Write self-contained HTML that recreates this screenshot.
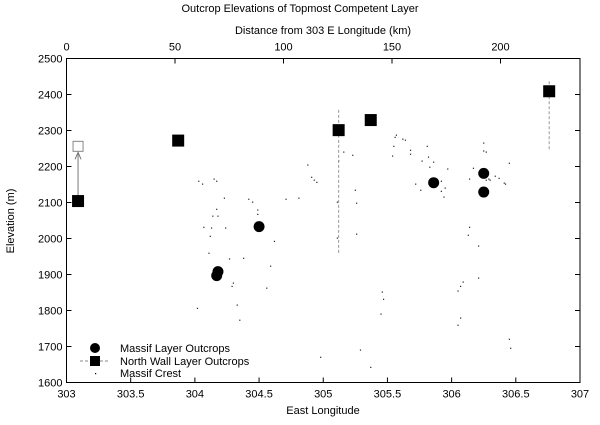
<!DOCTYPE html>
<html><head><meta charset="utf-8"><style>
body{margin:0;background:#fff;}
svg text{font-family:"Liberation Sans",sans-serif;font-size:11px;fill:#000;}
</style></head><body>
<svg id="chart" width="600" height="420" viewBox="0 0 600 420" xmlns="http://www.w3.org/2000/svg">
<text x="300" y="12" text-anchor="middle">Outcrop Elevations of Topmost Competent Layer</text>
<text x="323" y="34" text-anchor="middle">Distance from 303 E Longitude (km)</text>
<text x="323" y="414" text-anchor="middle">East Longitude</text>
<text x="14" y="221" text-anchor="middle" transform="rotate(-90 14 221)">Elevation (m)</text>
<g id="axes"></g>
<g id="marks"></g>
<g>
<circle cx="95" cy="348" r="5" fill="#000"/>
<text x="120" y="352">Massif Layer Outcrops</text>
<line x1="80" y1="361" x2="110" y2="361" stroke="#888" stroke-dasharray="3,2"/>
<rect x="90" y="356" width="10" height="10" fill="#000"/>
<text x="120" y="365">North Wall Layer Outcrops</text>
<rect x="95" y="373" width="1.2" height="1.2" fill="#000"/>
<text x="120" y="377">Massif Crest</text>
</g>
</svg>
<script>
const xTicks=[303,303.5,304,304.5,305,305.5,306,306.5,307];
const xTickLabels=["303","303.5","304","304.5","305","305.5","306","306.5","307"];
const yTicks=[1600,1700,1800,1900,2000,2100,2200,2300,2400,2500];
const kmTicks=[0,50,100,150,200];
const massifLon=[304.17,304.18,304.50,305.86,306.25,306.25];
const massifElev=[1897,1908,2033,2155,2181,2129];
const wallLon=[303.09,303.87,305.12,305.37,306.76];
const wallElev=[2104,2272,2301,2329,2409];
const wallErrLo=[null,null,1960,null,2248];
const wallErrHi=[null,null,2362,null,2440];
const wallCorrLon=[303.09];
const wallCorrElev=[2256];
const crestLon=[304.03,304.06,304.15,304.17,304.23,304.42,304.45,304.49,304.49,304.17,304.14,304.18,304.07,304.13,304.24,304.12,304.62,304.11,304.27,304.38,304.59,304.30,304.29,304.56,304.02,304.33,304.35,304.88,304.91,304.93,304.95,304.71,304.81,305.16,305.23,305.12,305.25,305.26,305.26,305.11,305.11,305.29,304.98,305.37,305.57,305.56,305.62,305.64,305.55,305.68,305.68,305.54,305.81,305.82,305.86,305.77,305.83,305.97,305.92,305.72,305.95,305.76,305.92,305.94,306.25,306.25,306.27,306.17,306.14,306.34,306.37,306.29,306.30,306.27,306.41,306.42,306.45,306.14,306.13,306.21,306.21,306.09,306.07,306.05,305.46,305.47,305.45,306.07,306.05,306.45,306.46];
const crestElev=[2159,2151,2165,2159,2112,2109,2101,2079,2067,2081,2062,2062,2031,2029,2029,2006,1992,1959,1943,1945,1923,1876,1867,1862,1806,1815,1773,2204,2170,2162,2156,2109,2112,2240,2231,2215,2134,2098,2012,2101,2001,1690,1670,1642,2287,2281,2276,2273,2256,2245,2234,2229,2256,2226,2212,2215,2198,2193,2159,2151,2140,2134,2131,2115,2265,2243,2240,2195,2165,2173,2167,2165,2162,2162,2154,2151,2209,2031,2009,1979,1890,1879,1867,1854,1851,1831,1790,1779,1759,1720,1695];

const L=66.5,R=580,T=58.5,B=382.5;
const sx=v=>L+(v-303)/4*(R-L);
const sy=v=>B-(v-1600)/900*(B-T);
const skm=k=>L+k*2.17;
const NS="http://www.w3.org/2000/svg";
const axes=document.getElementById('axes'),marks=document.getElementById('marks');
function mk(tag,attrs,parent){const e=document.createElementNS(NS,tag);for(const k in attrs)e.setAttribute(k,attrs[k]);parent.appendChild(e);return e;}

const frame=mk('rect',{x:L,y:T,width:R-L,height:B-T,fill:'none',stroke:'#000','stroke-width':1},axes);



xTicks.forEach((v,i)=>{
  const x=sx(v);
  const t=mk('line',{x1:x,y1:B,x2:x,y2:B-5,stroke:'#000'},axes);
  
  
  const lb=mk('text',{x:x,y:B+15,'text-anchor':'middle'},axes);lb.textContent=xTickLabels[i];
  
  
});
yTicks.forEach(v=>{
  const y=sy(v);
  const t=mk('path',{d:`M${L},${y}h5M${R},${y}h-5`,stroke:'#000'},axes);
  
  
  const lb=mk('text',{x:L-4,y:y+4,'text-anchor':'end'},axes);lb.textContent=v;
  
  
});
kmTicks.forEach(k=>{
  const x=skm(k);
  const t=mk('line',{x1:x,y1:T,x2:x,y2:T+5,stroke:'#000'},axes);
  
  
  const lb=mk('text',{x:x,y:T-8,'text-anchor':'middle'},axes);lb.textContent=k;
  
  
});

crestLon.forEach((v,i)=>{
  const d=mk('rect',{x:sx(v)-0.6,y:sy(crestElev[i])-0.6,width:1.2,height:1.2,fill:'#222'},marks);
  
  
});
wallLon.forEach((v,i)=>{
  if(wallErrLo[i]!==null){
    const e=mk('line',{x1:sx(v),y1:sy(wallErrLo[i]),x2:sx(v),y2:sy(wallErrHi[i]),stroke:'#999','stroke-dasharray':'3,2'},marks);
    
    
  }
});
wallCorrLon.forEach((v,i)=>{
  const x=sx(v),y0=sy(wallElev[0]),y1=sy(wallCorrElev[i]);
  const a=mk('path',{d:`M${x},${y0}V${y1+6}M${x-3},${y1+13}L${x},${y1+6}L${x+3},${y1+13}`,stroke:'#777',fill:'none'},marks);
  
  
  const s=mk('rect',{x:x-5,y:y1-5,width:10,height:10,fill:'#fff',stroke:'#888'},marks);
  
  
});
wallLon.forEach((v,i)=>{
  const s=mk('rect',{x:sx(v)-6,y:sy(wallElev[i])-6,width:12,height:12,fill:'#000'},marks);
  
  
});
massifLon.forEach((v,i)=>{
  const c=mk('circle',{cx:sx(v),cy:sy(massifElev[i]),r:5.5,fill:'#000'},marks);
  
  
});
</script>
</body></html>
